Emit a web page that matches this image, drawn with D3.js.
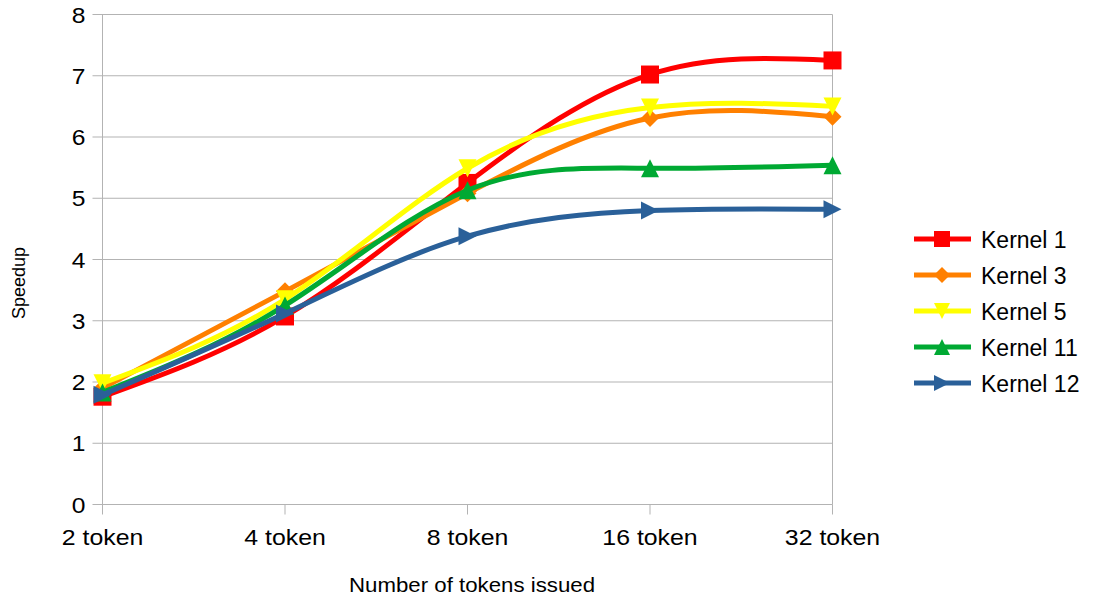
<!DOCTYPE html>
<html>
<head>
<meta charset="utf-8">
<title>Speedup</title>
<script src="https://cdn.jsdelivr.net/npm/d3@7"></script>
<style>
body{margin:0;background:#fff;}
text{font-family:"Liberation Sans",Arial,sans-serif;fill:#000;}
</style>
</head>
<body>
<svg id="chart" width="1094" height="599"></svg>
<script>
// data
var categories = ["2 token", "4 token", "8 token", "16 token", "32 token"];
var kernel1  = [1.76, 3.07, 5.25, 7.02, 7.25];
var kernel3  = [1.90, 3.48, 5.08, 6.31, 6.33];
var kernel5  = [1.98, 3.35, 5.49, 6.48, 6.50];
var kernel11 = [1.83, 3.25, 5.13, 5.49, 5.54];
var kernel12 = [1.79, 3.12, 4.38, 4.80, 4.82];
var seriesNames = ["Kernel 1", "Kernel 3", "Kernel 5", "Kernel 11", "Kernel 12"];
var yTicks = [0, 1, 2, 3, 4, 5, 6, 7, 8];

var series = [
  {name: seriesNames[0], values: kernel1,  color: "#ff0000", marker: "square"},
  {name: seriesNames[1], values: kernel3,  color: "#ff8000", marker: "diamond"},
  {name: seriesNames[2], values: kernel5,  color: "#ffff00", marker: "down"},
  {name: seriesNames[3], values: kernel11, color: "#00a933", marker: "up"},
  {name: seriesNames[4], values: kernel12, color: "#2a6099", marker: "right"}
];

var svg = d3.select("#chart");
var plotL = 102.5, plotR = 832.5, plotT = 14.5, plotB = 504.5;

var x = d3.scalePoint().domain(categories).range([plotL, plotR]);
var y = d3.scaleLinear().domain([0, 8]).range([plotB, plotT]);

var grid = svg.append("g");
// horizontal grid
grid.selectAll("line.h").data(yTicks).enter().append("line")
  .attr("x1", plotL - 10).attr("x2", plotR)
  .attr("y1", function(d){ return y(d); }).attr("y2", function(d){ return y(d); })
  .attr("stroke", "#b3b3b3").attr("stroke-width", 1);
// vertical lines at both ends
grid.selectAll("line.v").data([categories[0], categories[categories.length-1]]).enter().append("line")
  .attr("x1", function(d){ return x(d); }).attr("x2", function(d){ return x(d); })
  .attr("y1", plotT).attr("y2", plotB)
  .attr("stroke", "#b3b3b3").attr("stroke-width", 1);
// x tick marks
grid.selectAll("line.t").data(categories).enter().append("line")
  .attr("x1", function(d){ return x(d); }).attr("x2", function(d){ return x(d); })
  .attr("y1", plotB).attr("y2", plotB + 10)
  .attr("stroke", "#b3b3b3").attr("stroke-width", 1);

// tick labels (glyphs look a bit wide in the picture)
svg.selectAll("text.yl").data(yTicks).enter().append("text")
  .attr("transform", function(d){ return "translate(" + (plotL - 17) + "," + (y(d) + 8) + ") scale(1.12,1)"; })
  .attr("text-anchor", "end").style("font-size", "22px")
  .text(function(d){ return d; });
svg.selectAll("text.xl").data(categories).enter().append("text")
  .attr("transform", function(d){ return "translate(" + x(d) + "," + (plotB + 40.5) + ") scale(1.13,1)"; })
  .attr("text-anchor", "middle").style("font-size", "22px")
  .text(function(d){ return d; });

// axis titles
svg.append("text").attr("transform", "translate(25,283) rotate(-90)")
  .attr("text-anchor", "middle").style("font-size", "18px").text("Speedup");
svg.append("text").attr("transform", "translate(472,592) scale(1.06,1)")
  .attr("text-anchor", "middle").style("font-size", "21px").text("Number of tokens issued");

function markerPath(type, s) {
  var h = s / 2;
  if (type == "square") return "M" + (-h) + "," + (-h) + "H" + h + "V" + h + "H" + (-h) + "Z";
  if (type == "diamond") return "M0," + (-h) + "L" + h + ",0L0," + h + "L" + (-h) + ",0Z";
  if (type == "down") return "M" + (-h) + "," + (-h) + "H" + h + "L0," + h + "Z";
  if (type == "up") return "M" + (-h) + "," + h + "H" + h + "L0," + (-h) + "Z";
  if (type == "right") return "M" + (-h) + "," + (-h) + "L" + h + ",0L" + (-h) + "," + h + "Z";
}

var line = d3.line()
  .x(function(d, i){ return x(categories[i]); })
  .y(function(d){ return y(d); })
  .curve(d3.curveNatural);

var lines = svg.append("g");
series.forEach(function(s){
  var g = lines.append("g");
  g.append("path").attr("d", line(s.values))
    .attr("fill", "none").attr("stroke", s.color).attr("stroke-width", 5)
    .attr("stroke-linejoin", "round");
  g.selectAll("path.m").data(s.values).enter().append("path")
    .attr("transform", function(d, i){ return "translate(" + x(categories[i]) + "," + y(d) + ")"; })
    .attr("d", markerPath(s.marker, 18))
    .attr("fill", s.color);
});

// legend
var legend = svg.append("g");
series.forEach(function(s, i){
  var ly = 239 + i * 36;
  var g = legend.append("g");
  g.append("line").attr("x1", 914).attr("x2", 971).attr("y1", ly).attr("y2", ly)
    .attr("stroke", s.color).attr("stroke-width", 5);
  g.append("path").attr("transform", "translate(942," + ly + ")")
    .attr("d", markerPath(s.marker, 16)).attr("fill", s.color);
  g.append("text").attr("x", 981).attr("y", ly + 9).style("font-size", "23px").text(s.name);
});
</script>
</body>
</html>
